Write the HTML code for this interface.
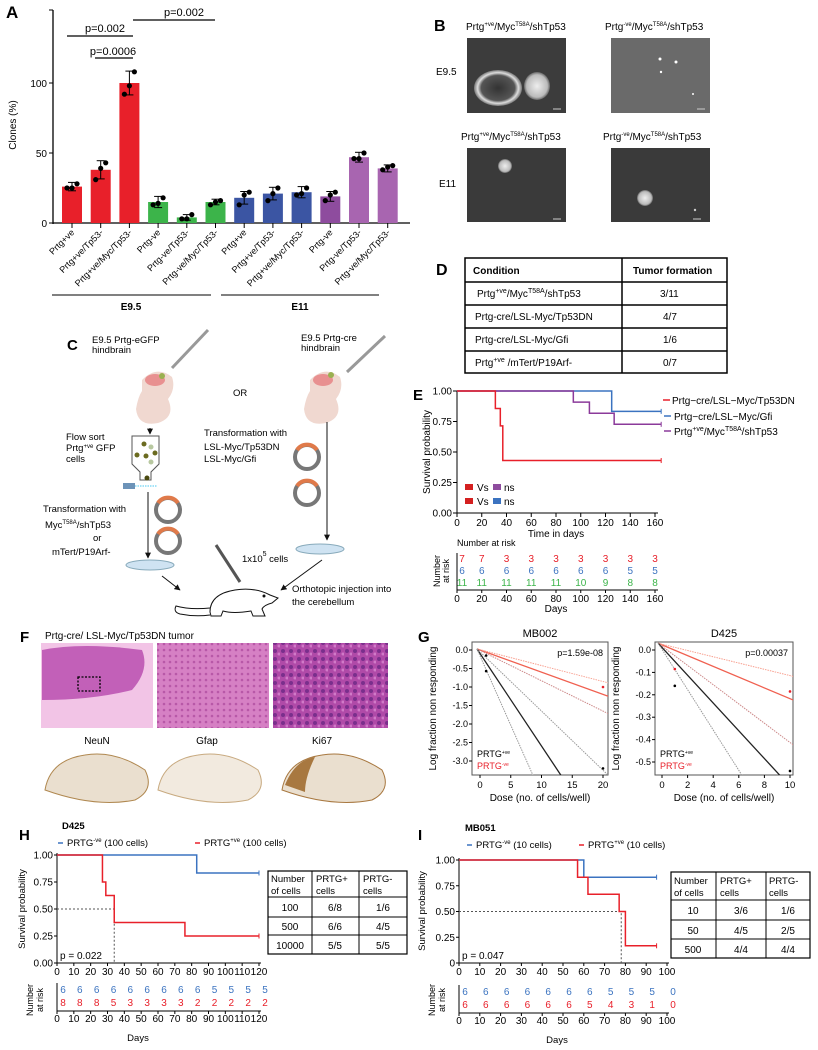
<!DOCTYPE html>
<html><head><meta charset="utf-8">
<style>
html,body{margin:0;padding:0;background:#fff;overflow:hidden;}
svg{display:block;font-family:"Liberation Sans",Arial,sans-serif;}
</style></head>
<body>
<svg id="fig" width="818" height="1050" viewBox="0 0 818 1050" xmlns="http://www.w3.org/2000/svg">
<defs>
<radialGradient id="sph" cx="50%" cy="50%" r="50%"><stop offset="0" stop-color="#333"/><stop offset="0.7" stop-color="#555"/><stop offset="0.85" stop-color="#ddd"/><stop offset="1" stop-color="#777"/></radialGradient>
<radialGradient id="sph2" cx="50%" cy="50%" r="50%"><stop offset="0" stop-color="#eee"/><stop offset="0.8" stop-color="#bbb"/><stop offset="1" stop-color="#666"/></radialGradient>
<pattern id="he" width="8" height="8" patternUnits="userSpaceOnUse"><rect width="8" height="8" fill="#b04aa8"/><circle cx="3" cy="3" r="2" fill="#7a2f8c"/><circle cx="7" cy="6" r="1.5" fill="#d07ac8"/></pattern>
<pattern id="he2" width="6" height="6" patternUnits="userSpaceOnUse"><rect width="6" height="6" fill="#d680c4"/><circle cx="2" cy="2" r="1.3" fill="#b858a8"/></pattern>
<marker id="arr" viewBox="0 0 10 10" refX="9" refY="5" markerWidth="6" markerHeight="6" orient="auto"><path d="M0,0L10,5L0,10z" fill="#111"/></marker>
<clipPath id="clipGL"><rect x="472" y="642" width="136" height="133"/></clipPath>
<clipPath id="clipGR"><rect x="655" y="642" width="138" height="133"/></clipPath>
</defs>

<!-- ===== Panel A ===== -->
<g id="panelA">
<text x="6" y="18" font-size="17" font-weight="bold">A</text>
<text x="16" y="125" font-size="10" transform="rotate(-90 16 125)" text-anchor="middle">Clones (%)</text>
<g id="aAxes"></g>
<g id="aBars"></g>
<g font-size="11" text-anchor="middle">
<line x1="67" y1="36" x2="133" y2="36" stroke="#000" stroke-width="1.3"/><text x="105" y="32">p=0.002</text>
<line x1="95" y1="58" x2="133" y2="58" stroke="#000" stroke-width="1.3"/><text x="113" y="55">p=0.0006</text>
<line x1="133" y1="20" x2="215" y2="20" stroke="#000" stroke-width="1.3"/><text x="184" y="16">p=0.002</text>
</g>
<line x1="52" y1="295" x2="211" y2="295" stroke="#000"/>
<line x1="221" y1="295" x2="379" y2="295" stroke="#000"/>
<text x="131" y="310" font-size="10" font-weight="bold" text-anchor="middle">E9.5</text>
<text x="300" y="310" font-size="10" font-weight="bold" text-anchor="middle">E11</text>
</g>

<!-- ===== Panel B ===== -->
<g id="panelB" font-size="10">
<text x="434" y="31" font-size="16" font-weight="bold">B</text>
<text x="466" y="30">Prtg<tspan font-size="6" dy="-4">+ve</tspan><tspan dy="4">/Myc</tspan><tspan font-size="6" dy="-4">T58A</tspan><tspan dy="4">/shTp53</tspan></text>
<text x="605" y="30">Prtg<tspan font-size="6" dy="-4">-ve</tspan><tspan dy="4">/Myc</tspan><tspan font-size="6" dy="-4">T58A</tspan><tspan dy="4">/shTp53</tspan></text>
<text x="461" y="140">Prtg<tspan font-size="6" dy="-4">+ve</tspan><tspan dy="4">/Myc</tspan><tspan font-size="6" dy="-4">T58A</tspan><tspan dy="4">/shTp53</tspan></text>
<text x="603" y="140">Prtg<tspan font-size="6" dy="-4">-ve</tspan><tspan dy="4">/Myc</tspan><tspan font-size="6" dy="-4">T58A</tspan><tspan dy="4">/shTp53</tspan></text>
<text x="436" y="75">E9.5</text>
<text x="439" y="187">E11</text>
<g><rect x="467" y="38" width="99" height="75" fill="#3c3c3c"/><ellipse cx="498" cy="88" rx="24" ry="18" fill="url(#sph)"/><ellipse cx="537" cy="86" rx="13" ry="14" fill="url(#sph2)"/><line x1="553" y1="109" x2="561" y2="109" stroke="#ccc"/></g>
<g><rect x="611" y="38" width="99" height="75" fill="#6a6a6a"/><circle cx="660" cy="59" r="1.5" fill="#fff"/><circle cx="676" cy="62" r="1.5" fill="#fff"/><circle cx="661" cy="72" r="1.2" fill="#fff"/><circle cx="693" cy="94" r="1" fill="#fff"/><line x1="697" y1="109" x2="705" y2="109" stroke="#ccc"/></g>
<g><rect x="467" y="148" width="99" height="74" fill="#3a3a3a"/><circle cx="505" cy="166" r="7" fill="url(#sph2)"/><line x1="553" y1="219" x2="561" y2="219" stroke="#ccc"/></g>
<g><rect x="611" y="148" width="99" height="74" fill="#3a3a3a"/><circle cx="645" cy="198" r="8" fill="url(#sph2)"/><circle cx="695" cy="210" r="1.2" fill="#ccc"/><line x1="693" y1="219" x2="701" y2="219" stroke="#ccc"/></g>
</g>

<!-- ===== Panel D ===== -->
<g id="panelD" font-size="10">
<text x="436" y="275" font-size="16" font-weight="bold">D</text>
<rect x="465" y="258" width="262" height="115" fill="none" stroke="#000" stroke-width="1.5"/>
<line x1="622" y1="258" x2="622" y2="373" stroke="#000" stroke-width="1.5"/>
<line x1="465" y1="282" x2="727" y2="282" stroke="#000" stroke-width="1.5"/>
<line x1="465" y1="305" x2="727" y2="305" stroke="#000" stroke-width="1.5"/>
<line x1="465" y1="328" x2="727" y2="328" stroke="#000" stroke-width="1.5"/>
<line x1="465" y1="351" x2="727" y2="351" stroke="#000" stroke-width="1.5"/>
<text x="473" y="274" font-weight="bold">Condition</text><text x="633" y="274" font-weight="bold">Tumor formation</text>
<text x="477" y="297">Prtg<tspan font-size="7" dy="-4">+ve</tspan><tspan dy="4">/Myc</tspan><tspan font-size="7" dy="-4">T58A</tspan><tspan dy="4">/shTp53</tspan></text><text x="660" y="297">3/11</text>
<text x="475" y="320">Prtg-cre/LSL-Myc/Tp53DN</text><text x="663" y="320">4/7</text>
<text x="475" y="343">Prtg-cre/LSL-Myc/Gfi</text><text x="663" y="343">1/6</text>
<text x="475" y="366">Prtg<tspan font-size="7" dy="-4">+ve</tspan><tspan dy="4"> /mTert/P19Arf-</tspan></text><text x="663" y="366">0/7</text>
</g>

<!-- ===== Panel C ===== -->
<g id="panelC" font-size="9.5">
<text x="67" y="350" font-size="15" font-weight="bold">C</text>
<text x="92" y="343">E9.5 Prtg-eGFP</text><text x="92" y="353">hindbrain</text>
<text x="301" y="341">E9.5 Prtg-cre</text><text x="301" y="351">hindbrain</text>
<line x1="172" y1="368" x2="208" y2="330" stroke="#999" stroke-width="3"/>
<line x1="347" y1="372" x2="385" y2="336" stroke="#999" stroke-width="3"/>
<g><path d="M142,380 q15,-15 30,-3 q4,12 -4,22 q8,18 -10,24 q-20,4 -22,-14 q2,-12 6,-18z" fill="#f0d8d0"/><ellipse cx="155" cy="380" rx="10" ry="6" fill="#e89090"/><circle cx="162" cy="376" r="3" fill="#9ab050"/></g>
<g><path d="M310,380 q15,-15 30,-3 q4,12 -4,22 q8,18 -10,24 q-20,4 -22,-14 q2,-12 6,-18z" fill="#f0d8d0"/><ellipse cx="323" cy="380" rx="10" ry="6" fill="#e89090"/><circle cx="331" cy="375" r="3" fill="#9ab050"/></g>
<text x="233" y="396">OR</text>
<line x1="150" y1="428" x2="150" y2="434" stroke="#111" marker-end="url(#arr)"/>
<path d="M132,436 h27 v28 l-8,8 v8 h-11 v-8 l-8,-8z" fill="#fff" stroke="#555"/>
<circle cx="144" cy="444" r="2.5" fill="#6b6b20"/><circle cx="151" cy="447" r="2.5" fill="#b8c8a0"/><circle cx="137" cy="455" r="2.5" fill="#6b6b20"/><circle cx="146" cy="456" r="2.5" fill="#6b6b20"/><circle cx="155" cy="453" r="2.5" fill="#6b6b20"/><circle cx="151" cy="462" r="2.5" fill="#b8c8a0"/><circle cx="147" cy="478" r="2.5" fill="#4a4a10"/>
<rect x="123" y="483" width="12" height="6" fill="#6d93b8"/><line x1="135" y1="486" x2="157" y2="486" stroke="#4ac8f0" stroke-dasharray="1.5,1"/>
<text x="66" y="440">Flow sort</text><text x="66" y="451">Prtg<tspan font-size="6" dy="-3">+ve</tspan><tspan dy="3"> GFP</tspan></text><text x="66" y="462">cells</text>
<text x="204" y="436">Transformation with</text><text x="204" y="450">LSL-Myc/Tp53DN</text><text x="204" y="462">LSL-Myc/Gfi</text>
<text x="43" y="512">Transformation with</text><text x="45" y="528">Myc<tspan font-size="6" dy="-4">T58A</tspan><tspan dy="4">/shTp53</tspan></text><text x="93" y="541">or</text><text x="52" y="555">mTert/P19Arf-</text>
<g fill="none" stroke-width="4"><circle cx="168" cy="510" r="12" stroke="#777"/><path d="M158,503 a12,12 0 0 1 20,0" stroke="#e07a4a"/><circle cx="168" cy="541" r="12" stroke="#777"/><path d="M158,534 a12,12 0 0 1 20,0" stroke="#e07a4a"/><circle cx="307" cy="457" r="12" stroke="#777"/><path d="M297,450 a12,12 0 0 1 20,0" stroke="#e07a4a"/><circle cx="307" cy="493" r="12" stroke="#777"/><path d="M297,486 a12,12 0 0 1 20,0" stroke="#e07a4a"/></g>
<line x1="148" y1="492" x2="148" y2="558" stroke="#111" marker-end="url(#arr)"/>
<line x1="327" y1="422" x2="327" y2="540" stroke="#111" marker-end="url(#arr)"/>
<ellipse cx="150" cy="565" rx="24" ry="5" fill="#cfe3f2" stroke="#8ab"/>
<ellipse cx="320" cy="549" rx="24" ry="5" fill="#cfe3f2" stroke="#8ab"/>
<line x1="162" y1="576" x2="180" y2="590" stroke="#111" marker-end="url(#arr)"/>
<line x1="322" y1="560" x2="281" y2="590" stroke="#111" marker-end="url(#arr)"/>
<line x1="216" y1="545" x2="240" y2="582" stroke="#555" stroke-width="3"/>
<text x="242" y="562">1x10<tspan font-size="7" dy="-6">5</tspan><tspan dy="6"> cells</tspan></text>
<g fill="#fff" stroke="#111">
<path d="M210,612 q0,-18 25,-22 q20,-3 35,5 l8,3 l-6,5 q-8,2 -10,6 l3,7 h-12 l-2,-5 q-18,3 -28,0 l-2,5 h-10z"/>
<path d="M210,608 q-20,2 -34,-2 q-3,6 4,8 q15,3 30,1" fill="none"/>
<circle cx="264" cy="596" r="1" fill="#111"/>
</g>
<text x="292" y="592">Orthotopic injection into</text><text x="292" y="605">the cerebellum</text>
</g>

<!-- ===== Panel E ===== -->
<g id="panelE" font-size="10">
<text x="413" y="400" font-size="15" font-weight="bold">E</text>
<text x="430" y="452" transform="rotate(-90 430 452)" text-anchor="middle">Survival probability</text>
<g id="eAxes"></g><g id="eCurves"></g>
<text x="556" y="537" text-anchor="middle">Time in days</text>
<g font-size="10">
<line x1="663" y1="400" x2="670" y2="400" stroke="#e8202a" stroke-width="1.5"/><text x="672" y="404">Prtg−cre/LSL−Myc/Tp53DN</text>
<line x1="664" y1="416" x2="671" y2="416" stroke="#3b73c0" stroke-width="1.5"/><text x="674" y="420">Prtg−cre/LSL−Myc/Gfi</text>
<line x1="664" y1="431" x2="671" y2="431" stroke="#8b3a9a" stroke-width="1.5"/><text x="674" y="435">Prtg<tspan font-size="7" dy="-4">+ve</tspan><tspan dy="4">/Myc</tspan><tspan font-size="7" dy="-4">T58A</tspan><tspan dy="4">/shTp53</tspan></text>
</g>
<g>
<rect x="465" y="484" width="8" height="6" fill="#d42020"/><text x="477" y="491">Vs</text><rect x="493" y="484" width="8" height="6" fill="#8e4c9e"/><text x="504" y="491">ns</text>
<rect x="465" y="498" width="8" height="6" fill="#d42020"/><text x="477" y="505">Vs</text><rect x="493" y="498" width="8" height="6" fill="#3b73c0"/><text x="504" y="505">ns</text>
</g>
<text x="457" y="546" font-size="9">Number at risk</text>
<text x="440" y="571" font-size="9" text-anchor="middle" transform="rotate(-90 440 571)">Number</text>
<text x="449" y="571" font-size="9" text-anchor="middle" transform="rotate(-90 449 571)">at risk</text>
<g id="eRisk"></g>
<text x="556" y="612" text-anchor="middle">Days</text>
</g>

<!-- ===== Panel F ===== -->
<g id="panelF" font-size="10">
<text x="20" y="642" font-size="15" font-weight="bold">F</text>
<text x="45" y="639">Prtg-cre/ LSL-Myc/Tp53DN tumor</text>
<g><rect x="41" y="643" width="112" height="85" fill="#f2c4e6"/><path d="M42,650 q40,-8 100,0 q8,20 -10,40 q-40,10 -90,10z" fill="#c260b8"/><rect x="78" y="677" width="22" height="14" fill="none" stroke="#000" stroke-dasharray="2,1.5" stroke-width="1.3"/></g>
<rect x="157" y="643" width="112" height="85" fill="url(#he2)"/>
<rect x="273" y="643" width="115" height="85" fill="url(#he)"/>
<text x="97" y="744" text-anchor="middle">NeuN</text><text x="207" y="744" text-anchor="middle">Gfap</text><text x="322" y="744" text-anchor="middle">Ki67</text>
<path d="M45,790 q5,-30 40,-35 q30,-5 60,15 q10,20 -10,30 q-40,8 -90,-10z" fill="#eadfcf" stroke="#b08850"/>
<path d="M158,790 q5,-30 40,-35 q30,-5 60,15 q10,20 -10,30 q-40,8 -90,-10z" fill="#f2eadf" stroke="#c8aa80"/>
<path d="M282,790 q5,-30 40,-35 q30,-5 60,15 q10,20 -10,30 q-40,8 -90,-10z" fill="#eadfcf" stroke="#a87840"/>
<path d="M285,785 q10,-25 30,-28 q-10,20 -10,35z" fill="#a87840"/>
</g>

<!-- ===== Panel G ===== -->
<g id="panelG" font-size="9">
<text x="418" y="642" font-size="15" font-weight="bold">G</text>
<g id="gLeft"></g><g id="gRight"></g>
<text x="477" y="757" font-size="9">PRTG<tspan font-size="5" dy="-3">+ve</tspan></text>
<text x="477" y="769" font-size="9" fill="#e8202a">PRTG<tspan font-size="5" dy="-3">-ve</tspan></text>
<text x="660" y="757" font-size="9">PRTG<tspan font-size="5" dy="-3">+ve</tspan></text>
<text x="660" y="769" font-size="9" fill="#e8202a">PRTG<tspan font-size="5" dy="-3">-ve</tspan></text>
</g>

<!-- ===== Panel H ===== -->
<g id="panelH" font-size="9.5">
<text x="19" y="840" font-size="15" font-weight="bold">H</text>
<text x="62" y="829" font-weight="bold">D425</text>
<g><line x1="58" y1="843" x2="63" y2="843" stroke="#3b73c0" stroke-width="1.5"/><text x="67" y="846">PRTG<tspan font-size="6" dy="-4">-ve</tspan><tspan dy="4"> (100 cells)</tspan></text>
<line x1="195" y1="843" x2="200" y2="843" stroke="#e8202a" stroke-width="1.5"/><text x="204" y="846">PRTG<tspan font-size="6" dy="-4">+ve</tspan><tspan dy="4"> (100 cells)</tspan></text></g>
<text x="25" y="909" transform="rotate(-90 25 909)" text-anchor="middle">Survival probability</text>
<g id="hPlot"></g>
<text x="33" y="1000" font-size="9" text-anchor="middle" transform="rotate(-90 33 1000)">Number</text>
<text x="43" y="1000" font-size="9" text-anchor="middle" transform="rotate(-90 43 1000)">at risk</text>
<text x="138" y="1041" text-anchor="middle">Days</text>
<g font-size="9.5">
<rect x="268" y="871" width="139" height="83" fill="#fff" stroke="#000" stroke-width="1.2"/>
<line x1="312" y1="871" x2="312" y2="954" stroke="#000"/><line x1="359" y1="871" x2="359" y2="954" stroke="#000"/>
<line x1="268" y1="897" x2="407" y2="897" stroke="#000"/><line x1="268" y1="917" x2="407" y2="917" stroke="#000"/><line x1="268" y1="935" x2="407" y2="935" stroke="#000"/>
<text x="271" y="882">Number</text><text x="271" y="894">of cells</text>
<text x="316" y="882">PRTG+</text><text x="316" y="894">cells</text>
<text x="363" y="882">PRTG-</text><text x="363" y="894">cells</text>
<g text-anchor="middle" font-size="10">
<text x="290" y="911">100</text><text x="335" y="911">6/8</text><text x="383" y="911">1/6</text>
<text x="290" y="930">500</text><text x="335" y="930">6/6</text><text x="383" y="930">4/5</text>
<text x="290" y="949">10000</text><text x="335" y="949">5/5</text><text x="383" y="949">5/5</text>
</g></g>
</g>

<!-- ===== Panel I ===== -->
<g id="panelI" font-size="9.5">
<text x="418" y="840" font-size="15" font-weight="bold">I</text>
<text x="465" y="831" font-weight="bold">MB051</text>
<g><line x1="467" y1="845" x2="472" y2="845" stroke="#3b73c0" stroke-width="1.5"/><text x="476" y="848">PRTG<tspan font-size="6" dy="-4">-ve</tspan><tspan dy="4"> (10 cells)</tspan></text>
<line x1="579" y1="845" x2="584" y2="845" stroke="#e8202a" stroke-width="1.5"/><text x="588" y="848">PRTG<tspan font-size="6" dy="-4">+ve</tspan><tspan dy="4"> (10 cells)</tspan></text></g>
<text x="425" y="911" transform="rotate(-90 425 911)" text-anchor="middle">Survival probability</text>
<g id="iPlot"></g>
<text x="435" y="1000" font-size="9" text-anchor="middle" transform="rotate(-90 435 1000)">Number</text>
<text x="445" y="1000" font-size="9" text-anchor="middle" transform="rotate(-90 445 1000)">at risk</text>
<text x="557" y="1043" text-anchor="middle">Days</text>
<g font-size="9.5">
<rect x="671" y="872" width="139" height="86" fill="#fff" stroke="#000" stroke-width="1.2"/>
<line x1="716" y1="872" x2="716" y2="958" stroke="#000"/><line x1="766" y1="872" x2="766" y2="958" stroke="#000"/>
<line x1="671" y1="900" x2="810" y2="900" stroke="#000"/><line x1="671" y1="920" x2="810" y2="920" stroke="#000"/><line x1="671" y1="939" x2="810" y2="939" stroke="#000"/>
<text x="674" y="884">Number</text><text x="674" y="896">of cells</text>
<text x="720" y="884">PRTG+</text><text x="720" y="896">cells</text>
<text x="769" y="884">PRTG-</text><text x="769" y="896">cells</text>
<g text-anchor="middle" font-size="10">
<text x="693" y="914">10</text><text x="741" y="914">3/6</text><text x="788" y="914">1/6</text>
<text x="693" y="934">50</text><text x="741" y="934">4/5</text><text x="788" y="934">2/5</text>
<text x="693" y="953">500</text><text x="741" y="953">4/4</text><text x="788" y="953">4/4</text>
</g></g>
</g>
</svg>

<script>
// ---------- Panel A data ----------
const aCategories = ["Prtg+ve","Prtg+ve/Tp53-","Prtg+ve/Myc/Tp53-","Prtg-ve","Prtg-ve/Tp53-","Prtg-ve/Myc/Tp53-","Prtg+ve","Prtg+ve/Tp53-","Prtg+ve/Myc/Tp53-","Prtg-ve","Prtg-ve/Tp53-","Prtg-ve/Myc/Tp53-"];
const aValues = [26, 38, 100, 15, 4, 15, 18, 21, 22, 19, 47, 39];
const aErrors = [3, 6.5, 8.5, 4, 2, 2, 4.5, 4.5, 4, 3.5, 3.5, 2.5];
const aPoints = [[25,25,28],[31,39,43],[92,98,108],[13,14,18],[3,3,6],[13,15,16],[13,20,22],[16,21,25],[20,21,25],[16,20,22],[46,46,50],[38,40,41]];
const aColors = ["#e8202a","#e8202a","#e8202a","#3cb44a","#3cb44a","#3cb44a","#3b55a3","#3b55a3","#3b55a3","#8e4c9e","#a865b0","#a865b0"];
const aTicks = [0, 50, 100];

// ---------- Panel E data ----------
const eTimesRed = [31, 35, 37];
const eSurvRed = [0.857, 0.714, 0.43];
const eTimesBlue = [125];
const eSurvBlue = [0.833];
const eTimesPurple = [94, 107, 127];
const eSurvPurple = [0.909, 0.818, 0.727];
const eXTicks = [0,20,40,60,80,100,120,140,160];
const eYTicks = [0,0.25,0.5,0.75,1.0];
const eRiskRed = [7,7,3,3,3,3,3,3,3];
const eRiskBlue = [6,6,6,6,6,6,6,5,5];
const eRiskGreen = [11,11,11,11,11,10,9,8,8];

// ---------- Panel G data ----------
const gLeftBlackSlopes = [-0.25, -0.375, -0.16];
const gLeftRedSlopes = [-0.06, -0.043, -0.082];
const gLeftBlackPts = [[1,-0.15],[1,-0.57],[20,-3.2]];
const gLeftRedPts = [[20,-1.0]];
const gRightBlackSlopes = [-0.062, -0.09];
const gRightRedSlopes = [-0.024, -0.014, -0.043];
const gRightBlackPts = [[1,-0.16],[10,-0.54]];
const gRightRedPts = [[1,-0.085],[10,-0.185]];
const gLeftYTicks = [0,-0.5,-1.0,-1.5,-2.0,-2.5,-3.0];
const gLeftXTicks = [0,5,10,15,20];
const gRightYTicks = [0,-0.1,-0.2,-0.3,-0.4,-0.5];
const gRightXTicks = [0,2,4,6,8,10];

// ---------- Panel H data ----------
const hTimesRed = [27, 29, 34, 76];
const hSurvRed = [0.75, 0.625, 0.375, 0.25];
const hTimesBlue = [83];
const hSurvBlue = [0.833];
const hXTicks = [0,10,20,30,40,50,60,70,80,90,100,110,120];
const hRiskBlue = [6,6,6,6,6,6,6,6,6,5,5,5,5];
const hRiskRed = [8,8,8,5,3,3,3,3,2,2,2,2,2];

// ---------- Panel I data ----------
const iTimesRed = [57, 62, 77, 80];
const iSurvRed = [0.833, 0.667, 0.5, 0.167];
const iTimesBlue = [60];
const iSurvBlue = [0.833];
const iXTicks = [0,10,20,30,40,50,60,70,80,90,100];
const iRiskBlue = [6,6,6,6,6,6,6,5,5,5,0];
const iRiskRed = [6,6,6,6,6,6,5,4,3,1,0];

const NS = "http://www.w3.org/2000/svg";
function mk(parent, tag, attrs, text){
  const el = document.createElementNS(NS, tag);
  for (const k in attrs) el.setAttribute(k, attrs[k]);
  if (text !== undefined) el.textContent = String(text);
  parent.appendChild(el);
  return el;
}

// ===== Panel A =====
try {
  const ax = document.getElementById('aAxes'), bars = document.getElementById('aBars');
  const y = v => 223 - v * 1.40;
  const x = i => 72 + i * 28.7;
  mk(ax,'line',{x1:53,y1:10,x2:53,y2:224,stroke:'#000','stroke-width':1.3});
  mk(ax,'line',{x1:53,y1:223,x2:410,y2:223,stroke:'#000','stroke-width':1.3});
  mk(ax,'line',{x1:49,y1:10,x2:53,y2:10,stroke:'#000'});
  aTicks.forEach(t=>{
    mk(ax,'line',{x1:49,y1:y(t),x2:53,y2:y(t),stroke:'#000'});
    const tl = mk(ax,'text',{x:47,y:y(t)+4,'font-size':10,'text-anchor':'end'},t);
    
  });
  aValues.forEach((v,i)=>{
    const r = mk(bars,'rect',{x:x(i)-10,y:y(v),width:20,height:223-y(v),fill:aColors[i]});
    
    
    mk(bars,'line',{x1:x(i),y1:y(v+aErrors[i]),x2:x(i),y2:y(v-aErrors[i]),stroke:'#000'});
    mk(bars,'line',{x1:x(i)-4,y1:y(v+aErrors[i]),x2:x(i)+4,y2:y(v+aErrors[i]),stroke:'#000'});
    mk(bars,'line',{x1:x(i)-4,y1:y(v-aErrors[i]),x2:x(i)+4,y2:y(v-aErrors[i]),stroke:'#000'});
    aPoints[i].forEach((p,j)=>{
      const c = mk(bars,'circle',{cx:x(i)+(j-1)*5,cy:y(p),r:2.6,fill:'#000'});
      
    });
    mk(ax,'line',{x1:x(i),y1:223,x2:x(i),y2:228,stroke:'#000'});
    const lab = mk(ax,'text',{x:x(i)+3,y:233,'font-size':9,'text-anchor':'end',transform:'rotate(-45 '+(x(i)+3)+' 233)'},aCategories[i]);
    
    
  });
} catch(e) {}

function km(g, times, surv, xs, ys, end, color, name){
  let d = 'M' + xs(0) + ',' + ys(1); let prev = 1;
  times.forEach((t,i)=>{ d += ' H' + xs(t) + ' V' + ys(surv[i]); prev = surv[i]; });
  d += ' H' + xs(end);
  const p = mk(g,'path',{d:d,fill:'none',stroke:color,'stroke-width':1.5});
  
  
  mk(g,'line',{x1:xs(end),y1:ys(prev)-2.5,x2:xs(end),y2:ys(prev)+2.5,stroke:color});
}

// ===== Panel E =====
try {
  const g = document.getElementById('eAxes'), c = document.getElementById('eCurves'), r = document.getElementById('eRisk');
  const xs = t => 457 + t * (198/160);
  const ys = v => 513 - v * 122;
  mk(g,'line',{x1:457,y1:391,x2:457,y2:513,stroke:'#000'});
  mk(g,'line',{x1:457,y1:513,x2:658,y2:513,stroke:'#000'});
  eYTicks.forEach(t=>{ mk(g,'line',{x1:453,y1:ys(t),x2:457,y2:ys(t),stroke:'#000'});
    const l = mk(g,'text',{x:452,y:ys(t)+3.5,'text-anchor':'end','font-size':10},t.toFixed(2));
     });
  eXTicks.forEach(t=>{ mk(g,'line',{x1:xs(t),y1:513,x2:xs(t),y2:517,stroke:'#000'});
    const l = mk(g,'text',{x:xs(t),y:526,'text-anchor':'middle','font-size':10},t);
     });
  km(c, eTimesBlue, eSurvBlue, xs, ys, 165, '#3b73c0', 'curve-gfi');
  km(c, eTimesPurple, eSurvPurple, xs, ys, 165, '#8b3a9a', 'curve-shtp53');
  km(c, eTimesRed, eSurvRed, xs, ys, 165, '#e8202a', 'curve-tp53dn');
  mk(r,'line',{x1:457,y1:553,x2:457,y2:590,stroke:'#000'});
  mk(r,'line',{x1:457,y1:590,x2:658,y2:590,stroke:'#000'});
  const rows = [[eRiskRed,'#e8202a',562],[eRiskBlue,'#3b73c0',574],[eRiskGreen,'#3cb44a',586]];
  rows.forEach(row=>{ row[0].forEach((n,i)=>{ const t = mk(r,'text',{x:xs(eXTicks[i])+(i===0?5:0),y:row[2],'text-anchor':'middle',fill:row[1],'font-size':10},n);
     }); });
  eXTicks.forEach(t=>{ mk(r,'line',{x1:xs(t),y1:590,x2:xs(t),y2:593,stroke:'#000'});
    const l = mk(r,'text',{x:xs(t),y:602,'text-anchor':'middle','font-size':10},t);
     });
} catch(e) {}

// ===== Panel G =====
function elda(gid, clipId, x0, y0, x1, y1, zeroX, xScale, yScale, xmin, xmax, yTicks, xTicks, blackSl, redSl, bPts, rPts, title, ptext, dec){
  const g = document.getElementById(gid);
  const xs = d => zeroX + d * xScale;
  const ys = v => 650 - v * yScale;
  mk(g,'rect',{x:x0,y:y0,width:x1-x0,height:y1-y0,fill:'none',stroke:'#555'});
  const t = mk(g,'text',{x:(x0+x1)/2,y:637,'text-anchor':'middle','font-size':11},title);
  
  mk(g,'text',{x:x1-5,y:y0+14,'text-anchor':'end','font-size':9},ptext);
  yTicks.forEach(v=>{ mk(g,'line',{x1:x0-3,y1:ys(v),x2:x0,y2:ys(v),stroke:'#000'});
    const l = mk(g,'text',{x:x0-4,y:ys(v)+3,'text-anchor':'end','font-size':9},v.toFixed(1));
     });
  xTicks.forEach(v=>{ mk(g,'line',{x1:xs(v),y1:y1,x2:xs(v),y2:y1+3,stroke:'#000'});
    const l = mk(g,'text',{x:xs(v),y:y1+13,'text-anchor':'middle','font-size':9.5},v);
     });
  mk(g,'text',{x:(x0+x1)/2,y:y1+26,'text-anchor':'middle','font-size':10},'Dose (no. of cells/well)');
  const ym = (y0+y1)/2;
  mk(g,'text',{x:x0-36,y:ym,'text-anchor':'middle','font-size':10,transform:'rotate(-90 '+(x0-36)+' '+ym+')'},'Log fraction non responding');
  const lg = mk(g,'g',{'clip-path':'url(#'+clipId+')'});
  const line = (s,col,dash,w,name)=>{
    const l = mk(lg,'line',{x1:xs(xmin),y1:ys(0.03),x2:xs(xmax),y2:ys(0.03+s*(xmax-xmin)),stroke:col,'stroke-width':w});
    if(dash) l.setAttribute('stroke-dasharray',dash);
    
  };
  redSl.forEach((s,i)=> line(s, i===0?'#f06050':(i===2?'#c88':'#f8a090'), i===0?null:'1.5,1', i===0?1.3:1, 'prtg-neg-fit'));
  blackSl.forEach((s,i)=> line(s, i===0?'#222':'#999', i===0?null:'1.5,1', i===0?1.3:1, 'prtg-pos-fit'));
  bPts.forEach(p=>{ const c = mk(g,'circle',{cx:xs(p[0]),cy:ys(p[1]),r:1.3,fill:'#000'});
     });
  rPts.forEach(p=>{ const c = mk(g,'circle',{cx:xs(p[0]),cy:ys(p[1]),r:1.3,fill:'#e8202a'});
     });
}
try { elda('gLeft','clipGL',472,642,608,775,480,123/20,37,-0.5,21,gLeftYTicks,gLeftXTicks,gLeftBlackSlopes,gLeftRedSlopes,gLeftBlackPts,gLeftRedPts,'MB002','p=1.59e-08'); } catch(e) {}
try { elda('gRight','clipGR',655,642,793,775,662,12.8,224,-0.3,10.5,gRightYTicks,gRightXTicks,gRightBlackSlopes,gRightRedSlopes,gRightBlackPts,gRightRedPts,'D425','p=0.00037'); } catch(e) {}

// ===== Panels H & I =====
function survPanel(gid, x0, xEnd, xmax, yTop, yBot, xTicks, tRed, sRed, tBlue, sBlue, end, medX, pText, riskBlue, riskRed, ry, yTickLabels){
  const g = document.getElementById(gid);
  const xs = t => x0 + t * ((xEnd-x0)/xmax);
  const ys = v => yBot - v * (yBot-yTop);
  const xLast = xs(xTicks[xTicks.length-1]) + 2;
  mk(g,'line',{x1:x0,y1:yTop-2,x2:x0,y2:yBot,stroke:'#000'});
  mk(g,'line',{x1:x0,y1:yBot,x2:xLast,y2:yBot,stroke:'#000'});
  [0,0.25,0.5,0.75,1].forEach((v,i)=>{ mk(g,'line',{x1:x0-3,y1:ys(v),x2:x0,y2:ys(v),stroke:'#000'});
    const l = mk(g,'text',{x:x0-4,y:ys(v)+3.5,'text-anchor':'end','font-size':10},yTickLabels[i]);
     });
  xTicks.forEach(t=>{ mk(g,'line',{x1:xs(t),y1:yBot,x2:xs(t),y2:yBot+3,stroke:'#000'});
    const l = mk(g,'text',{x:xs(t),y:yBot+12,'text-anchor':'middle','font-size':10},t);
     });
  mk(g,'path',{d:'M'+x0+','+ys(0.5)+' H'+xs(medX)+' V'+yBot,fill:'none',stroke:'#555','stroke-dasharray':'2,2'});
  km(g, tBlue, sBlue, xs, ys, end, '#3b73c0', 'curve-prtg-neg');
  km(g, tRed, sRed, xs, ys, end, '#e8202a', 'curve-prtg-pos');
  mk(g,'text',{x:x0+3,y:yBot-4,'font-size':10},pText);
  mk(g,'line',{x1:x0,y1:ry-2,x2:x0,y2:ry+26,stroke:'#000'});
  mk(g,'line',{x1:x0,y1:ry+26,x2:xLast,y2:ry+26,stroke:'#000'});
  riskBlue.forEach((n,i)=>{ const t = mk(g,'text',{x:xs(xTicks[i])+6,y:ry+8,'text-anchor':'middle',fill:'#3b73c0','font-size':10},n);
     });
  riskRed.forEach((n,i)=>{ const t = mk(g,'text',{x:xs(xTicks[i])+6,y:ry+21,'text-anchor':'middle',fill:'#e8202a','font-size':10},n);
     });
  xTicks.forEach(t=>{ mk(g,'line',{x1:xs(t),y1:ry+26,x2:xs(t),y2:ry+29,stroke:'#000'});
    const l = mk(g,'text',{x:xs(t),y:ry+37,'text-anchor':'middle','font-size':10},t);
     });
}
try { survPanel('hPlot',57,259,120,855,963,hXTicks,hTimesRed,hSurvRed,hTimesBlue,hSurvBlue,120,34,'p = 0.022',hRiskBlue,hRiskRed,985,['0.00','0.25','0.50','0.75','1.00']); } catch(e) {}
try { survPanel('iPlot',459,667,100,860,963,iXTicks,iTimesRed,iSurvRed,iTimesBlue,iSurvBlue,95,78,'p = 0.047',iRiskBlue,iRiskRed,987,['0','0.25','0.50','0.75','1.00']); } catch(e) {}
</script>
</body></html>
